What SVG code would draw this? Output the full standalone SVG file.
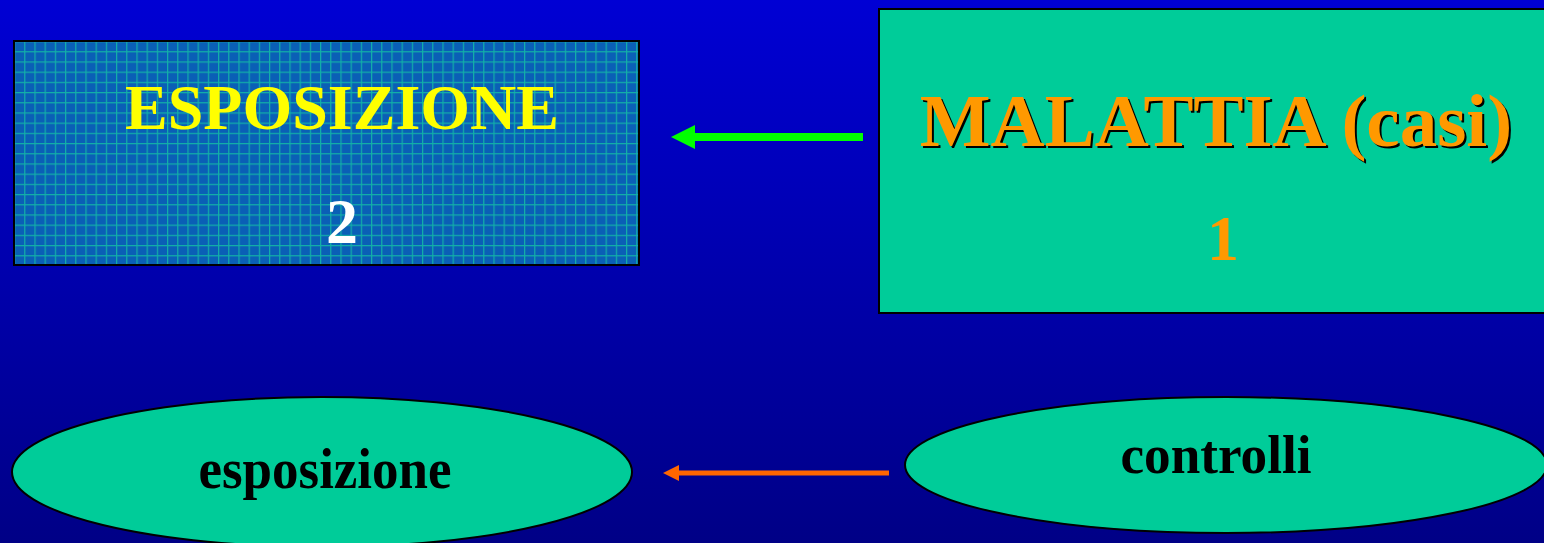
<svg xmlns="http://www.w3.org/2000/svg" width="1544" height="543" viewBox="0 0 1544 543">
<defs>
<linearGradient id="bg" x1="0" y1="0" x2="0" y2="1">
<stop offset="0" stop-color="#0000D4"/>
<stop offset="1" stop-color="#000086"/>
</linearGradient>
<pattern id="grid" x="14" y="41" width="10.2" height="10.2" patternUnits="userSpaceOnUse">
<rect width="10.2" height="10.2" fill="#0A5FB6"/>
<rect x="0" y="0" width="10.2" height="1.2" fill="#12B0A8"/>
<rect x="0" y="0" width="1.2" height="10.2" fill="#12B0A8"/>
</pattern>
<marker id="hg" viewBox="0 0 24 24" markerWidth="24" markerHeight="24" refX="0" refY="12" orient="auto" markerUnits="userSpaceOnUse">
<path d="M0,0 L24,12 L0,24 Z" fill="#00FF00"/>
</marker>
<marker id="ho" viewBox="0 0 16 16" markerWidth="16" markerHeight="16" refX="0" refY="8" orient="auto" markerUnits="userSpaceOnUse">
<path d="M0,0 L16,8 L0,16 Z" fill="#FF6600"/>
</marker>
</defs>
<style>
text{font-family:"Liberation Serif","Times New Roman",serif;font-weight:bold;text-anchor:middle}
.teal{fill:#00CC99;stroke:#000;stroke-width:2}
</style>
<rect width="1544" height="543" fill="url(#bg)"/>
<g id="node-esposizione-box">
<rect x="14" y="41" width="625" height="224" fill="url(#grid)" stroke="#000" stroke-width="2"/>
<text x="342" y="129" font-size="64" fill="#FFFF00">ESPOSIZIONE</text>
<text x="342" y="243" font-size="64" fill="#FFFFFF">2</text>
</g>
<g id="node-malattia">
<rect x="879" y="9" width="670" height="304" class="teal"/>
<text x="1218" y="148" font-size="75" fill="#000">MALATTIA (casi)</text>
<text x="1216" y="146" font-size="75" fill="#FF9900">MALATTIA (casi)</text>
<text x="1223" y="260" font-size="64" fill="#FF9900">1</text>
</g>
<g id="node-esposizione-ellipse">
<ellipse cx="322" cy="472" rx="310" ry="75" class="teal"/>
<text x="325" y="488" font-size="56" fill="#000" textLength="253" lengthAdjust="spacingAndGlyphs">esposizione</text>
</g>
<g id="node-controlli">
<ellipse cx="1226" cy="465" rx="321" ry="68" class="teal"/>
<text x="1216" y="473" font-size="55" fill="#000" textLength="191" lengthAdjust="spacingAndGlyphs">controlli</text>
</g>
<g id="connectors">
<line x1="863" y1="137" x2="695" y2="137" stroke="#00FF00" stroke-width="8" marker-end="url(#hg)"/>
<line x1="889" y1="473" x2="679" y2="473" stroke="#FF6600" stroke-width="5" marker-end="url(#ho)"/>
</g>
</svg>
